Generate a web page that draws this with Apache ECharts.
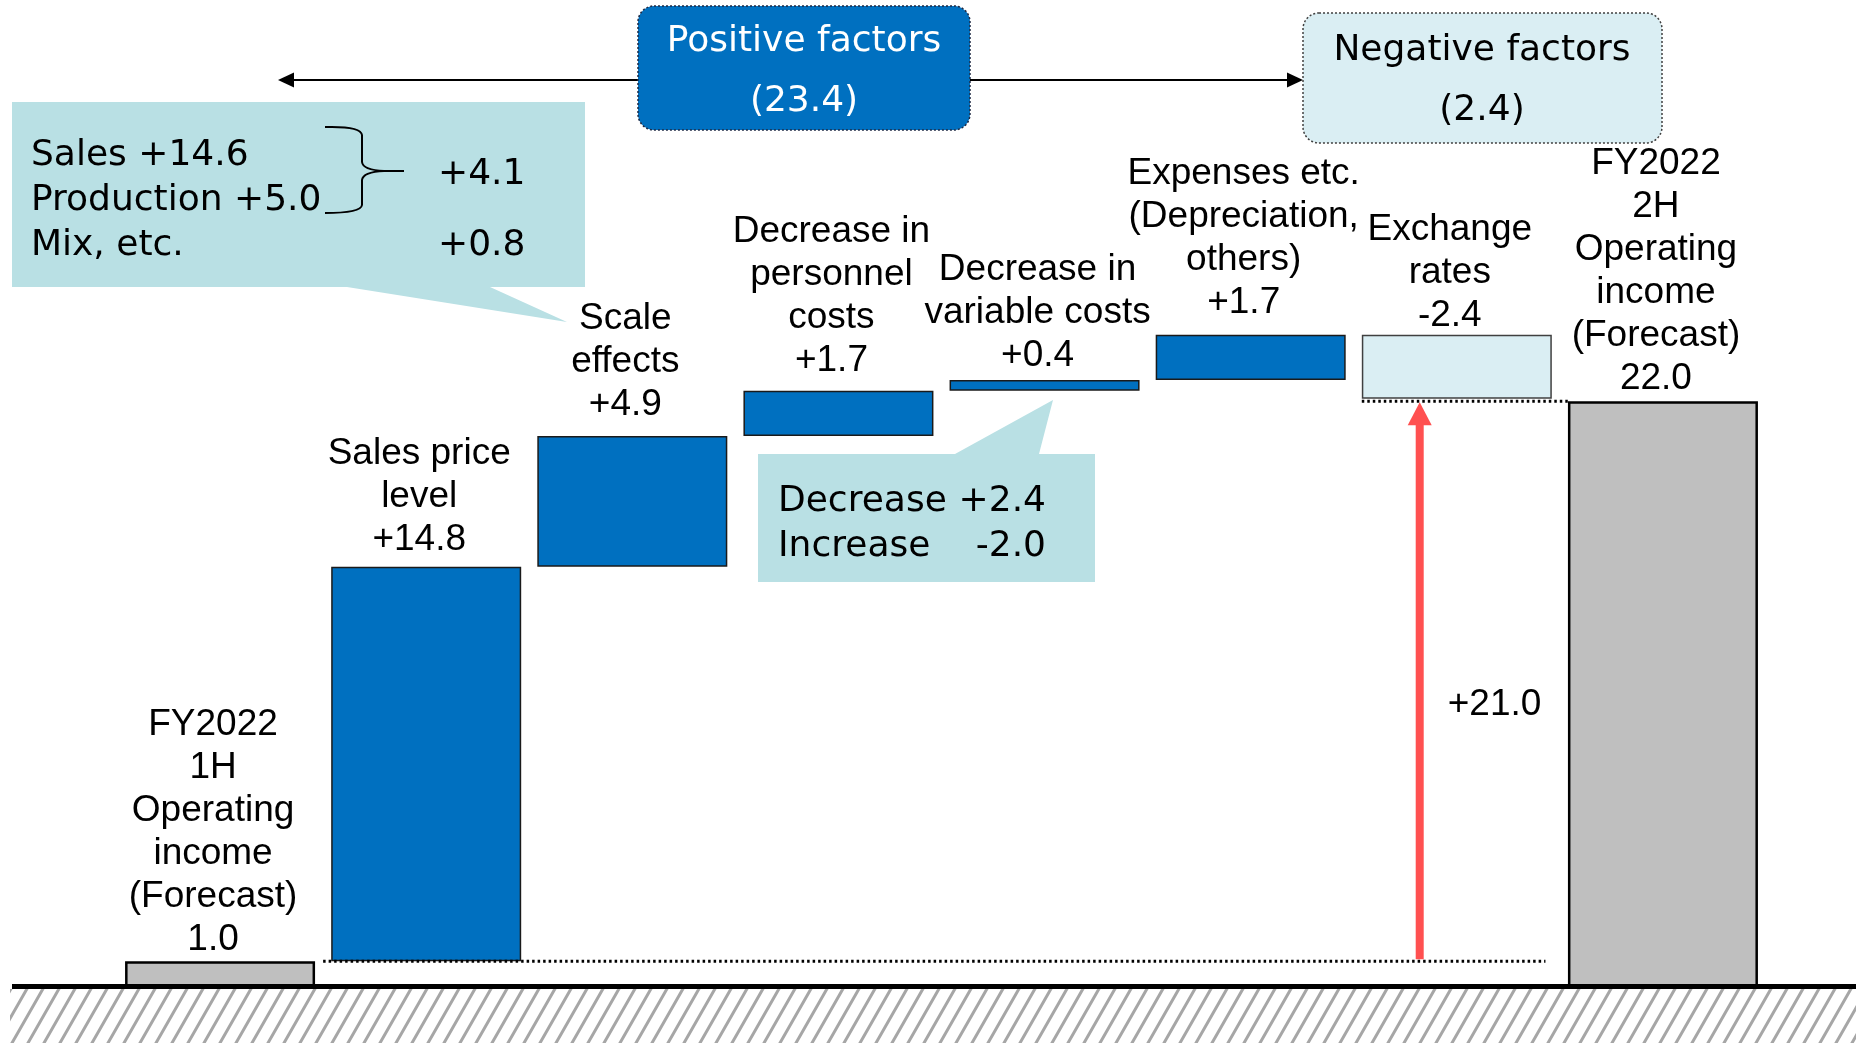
<!DOCTYPE html>
<html>
<head>
<meta charset="utf-8">
<title>Operating income bridge FY2022 1H to 2H</title>
<script src="https://cdn.jsdelivr.net/npm/echarts@6/dist/echarts.min.js"></script>
<style>
  html, body { margin: 0; padding: 0; background: #ffffff; }
  #chart { width: 1856px; height: 1043px; }
</style>
</head>
<body>
<div id="chart"></div>
<script>
// ---- data ----
const categories = [
  'FY2022\n1H\nOperating\nincome\n(Forecast)',
  'Sales price\nlevel',
  'Scale\neffects',
  'Decrease in\npersonnel\ncosts',
  'Decrease in\nvariable costs',
  'Expenses etc.\n(Depreciation,\nothers)',
  'Exchange\nrates',
  'FY2022\n2H\nOperating\nincome\n(Forecast)'
];
const changes = [1.0, 14.8, 4.9, 1.7, 0.4, 1.7, -2.4, 22.0];
const barKinds = ['total', 'up', 'up', 'up', 'up', 'up', 'down', 'total'];

const positiveTitle = ['Positive factors', '(23.4)'];
const negativeTitle = ['Negative factors', '(2.4)'];
const scaleBreakdown = ['Sales +14.6', 'Production +5.0', 'Mix, etc.'];
const scaleBreakdownValues = ['+4.1', '+0.8'];
const variableBreakdown = [['Decrease', '+2.4'], ['Increase', '-2.0']];

// dotted guide lines: [from category, to category, level]
const connectors = [[1, 6, 1.0], [6, 7, 22.0]];
// total change arrow: [category, from level, to level]
const bridgeArrow = [[6, 1.0, 22.0]];

// ---- styling ----
const LABEL_FONT = '"Liberation Sans", Arial, sans-serif';
const NOTE_FONT = '"DejaVu Sans", Verdana, sans-serif';
const BLUE = '#0070C0';
const NOTE_FILL = '#B9E0E4';
const BAR_STYLE = {
  total: { color: '#BFBFBF', borderColor: '#000000', borderWidth: 2.5 },
  up: { color: BLUE, borderColor: '#1a1a1a', borderWidth: 1.5 },
  down: { color: '#DAEEF3', borderColor: '#404040', borderWidth: 1.5 }
};
const LABEL_GAP = [0, 5, 10, 8, 3, 10, -3, 1];
const CONNECTOR_ENDS = [[-0.5, 0.43], [-0.461, -0.461]];

// ---- waterfall geometry from the values ----
const bases = [];
const heights = [];
const valueTexts = [];
let running = 0;
changes.forEach((v, i) => {
  const kind = barKinds[i];
  if (kind === 'total') {
    bases.push(0); heights.push(v); running = v;
    valueTexts.push(v.toFixed(1));
  } else if (kind === 'up') {
    bases.push(running); heights.push(v); running += v;
    valueTexts.push('+' + v.toFixed(1));
  } else {
    running += v;
    bases.push(running); heights.push(-v);
    valueTexts.push(v.toFixed(1));
  }
});

function hatchTile() {
  const c = document.createElement('canvas');
  c.width = 16; c.height = 28;
  const g = c.getContext('2d');
  g.fillStyle = '#ffffff';
  g.fillRect(0, 0, 16, 28);
  g.strokeStyle = '#A6A6A6';
  g.lineWidth = 3;
  g.beginPath();
  [-16, 0, 16].forEach(dx => {
    g.moveTo(dx - 2, 28 + 3.5);
    g.lineTo(dx + 18, -3.5);
  });
  g.stroke();
  return c;
}

function renderConnector(params, api) {
  const from = api.value(0), to = api.value(1), lvl = api.value(2);
  const band = api.size([1, 0])[0];
  const ends = CONNECTOR_ENDS[params.dataIndex];
  const p0 = api.coord([from, lvl]);
  const p1 = api.coord([to, lvl]);
  return {
    type: 'line',
    shape: { x1: p0[0] + ends[0] * band, y1: p0[1], x2: p1[0] + ends[1] * band, y2: p0[1] },
    style: { stroke: '#000000', lineWidth: 3, lineDash: [2.5, 3] }
  };
}

function renderArrow(params, api) {
  const cat = api.value(0), lo = api.value(1), hi = api.value(2);
  const band = api.size([1, 0])[0];
  const c = api.coord([cat, lo]);
  const x = c[0] - 0.18 * band;
  const yBottom = c[1] - 2;
  const yTip = api.coord([cat, hi])[1] + 1;
  const headH = 23, headW = 24;
  const delta = hi - lo;
  return {
    type: 'group',
    children: [
      { type: 'rect', shape: { x: x - 4, y: yTip + headH - 1, width: 8, height: yBottom - yTip - headH + 1 },
        style: { fill: '#FF5050' } },
      { type: 'polygon', shape: { points: [[x, yTip], [x - headW / 2, yTip + headH], [x + headW / 2, yTip + headH]] },
        style: { fill: '#FF5050' } },
      { type: 'text', x: x + 28, y: (yBottom + yTip) / 2 + 24,
        style: { text: '+' + delta.toFixed(1), fill: '#000000', font: '37px ' + LABEL_FONT,
                 align: 'left', verticalAlign: 'middle' } }
    ]
  };
}

function noteText(x, y, text, opts) {
  return {
    type: 'text', x: x, y: y, z: 120,
    style: Object.assign({ text: text, fill: '#000000', font: '36px ' + NOTE_FONT,
                           align: 'left', verticalAlign: 'middle' }, opts || {})
  };
}

function braceLine(x1, y1, x2, y2) {
  return { type: 'line', z: 120, shape: { x1: x1, y1: y1, x2: x2, y2: y2 },
           style: { stroke: '#000000', lineWidth: 2 } };
}
function braceCurve(x1, y1, cx, cy, x2, y2) {
  return { type: 'bezierCurve', z: 120,
           shape: { x1: x1, y1: y1, cpx1: cx, cpy1: cy, x2: x2, y2: y2 },
           style: { stroke: '#000000', lineWidth: 2, fill: null } };
}

const chart = echarts.init(document.getElementById('chart'), null, { renderer: 'canvas' });

const graphics = [
  // ground with hatching
  { type: 'rect', z: 100, shape: { x: 10, y: 989, width: 1846, height: 54 },
    style: { fill: { image: hatchTile(), repeat: 'repeat' } } },
  { type: 'rect', z: 101, shape: { x: 12, y: 984, width: 1844, height: 5 }, style: { fill: '#000000' } },

  // factor headers and the span arrow
  { type: 'line', z: 100, shape: { x1: 292, y1: 80, x2: 640, y2: 80 }, style: { stroke: '#000000', lineWidth: 2 } },
  { type: 'line', z: 100, shape: { x1: 968, y1: 80, x2: 1289, y2: 80 }, style: { stroke: '#000000', lineWidth: 2 } },
  { type: 'polygon', z: 100, shape: { points: [[278, 80], [294, 72.5], [294, 87.5]] }, style: { fill: '#000000' } },
  { type: 'polygon', z: 100, shape: { points: [[1303, 80], [1287, 72.5], [1287, 87.5]] }, style: { fill: '#000000' } },
  { type: 'rect', z: 110, shape: { x: 638, y: 6, width: 332, height: 124, r: 16 },
    style: { fill: BLUE, stroke: '#1F2A44', lineWidth: 1.5, lineDash: [2, 2] } },
  noteText(804, 42, positiveTitle[0], { fill: '#ffffff', align: 'center' }),
  noteText(804, 102, positiveTitle[1], { fill: '#ffffff', align: 'center' }),
  { type: 'rect', z: 110, shape: { x: 1303, y: 13, width: 359, height: 130, r: 16 },
    style: { fill: '#DAEEF3', stroke: '#404040', lineWidth: 1.5, lineDash: [2, 2] } },
  noteText(1482, 51, negativeTitle[0], { align: 'center' }),
  noteText(1482, 111, negativeTitle[1], { align: 'center' }),

  // scale effects breakdown callout
  { type: 'polygon', z: 105,
    shape: { points: [[12, 102], [585, 102], [585, 287], [490, 287], [567, 322], [347, 287], [12, 287]] },
    style: { fill: NOTE_FILL } },
  noteText(31, 156, scaleBreakdown[0]),
  noteText(31, 201, scaleBreakdown[1]),
  noteText(31, 246, scaleBreakdown[2]),
  noteText(438, 175, scaleBreakdownValues[0]),
  noteText(438, 246, scaleBreakdownValues[1]),
  braceCurve(325, 127, 361, 126, 362, 135),
  braceLine(362, 135, 362, 162),
  braceCurve(362, 162, 363, 170, 384, 171),
  braceLine(384, 171, 404, 171),
  braceCurve(384, 171, 363, 172, 362, 180),
  braceLine(362, 180, 362, 205),
  braceCurve(362, 205, 361, 213, 325, 213),

  // variable costs breakdown callout
  { type: 'polygon', z: 105,
    shape: { points: [[758, 454], [955, 454], [1053, 400], [1039, 454], [1095, 454], [1095, 582], [758, 582]] },
    style: { fill: NOTE_FILL } },
  noteText(778, 502, variableBreakdown[0][0]),
  noteText(1046, 502, variableBreakdown[0][1], { align: 'right' }),
  noteText(778, 547, variableBreakdown[1][0]),
  noteText(1046, 547, variableBreakdown[1][1], { align: 'right' })
];

chart.setOption({
  animation: false,
  backgroundColor: '#ffffff',
  grid: { left: 117, right: 90, top: 188, bottom: 55, containLabel: false },
  xAxis: {
    type: 'category',
    data: categories,
    axisLine: { show: false },
    axisTick: { show: false },
    axisLabel: { show: false },
    splitLine: { show: false }
  },
  yAxis: {
    type: 'value',
    min: 0,
    max: 30,
    show: false,
    splitLine: { show: false }
  },
  series: [
    {
      name: 'base',
      type: 'bar',
      stack: 'bridge',
      barWidth: 190,
      silent: true,
      itemStyle: { color: 'transparent' },
      data: bases
    },
    {
      name: 'change',
      type: 'bar',
      stack: 'bridge',
      barWidth: 190,
      z: 3,
      data: heights.map((h, i) => ({
        value: h,
        itemStyle: BAR_STYLE[barKinds[i]],
        label: { distance: LABEL_GAP[i] }
      })),
      label: {
        show: true,
        position: 'top',
        offset: [-7, 0],
        color: '#000000',
        fontFamily: LABEL_FONT,
        fontSize: 37,
        lineHeight: 43,
        align: 'center',
        formatter: p => categories[p.dataIndex] + '\n' + valueTexts[p.dataIndex]
      }
    },
    {
      name: 'guides',
      type: 'custom',
      z: 4,
      clip: false,
      silent: true,
      encode: { x: [0, 1], y: 2 },
      renderItem: renderConnector,
      data: connectors
    },
    {
      name: 'bridge',
      type: 'custom',
      z: 5,
      clip: false,
      silent: true,
      encode: { x: 0, y: [1, 2] },
      renderItem: renderArrow,
      data: bridgeArrow
    }
  ],
  graphic: graphics
});
</script>
</body>
</html>
